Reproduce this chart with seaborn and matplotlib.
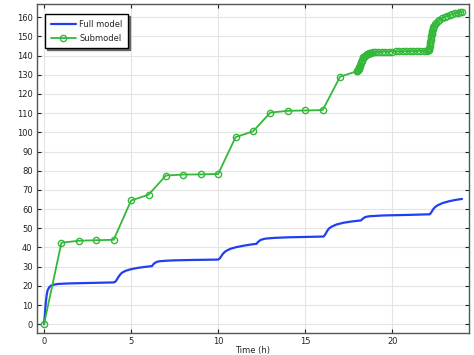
import matplotlib
matplotlib.use("Agg")
import matplotlib.pyplot as plt
import seaborn as sns
import pandas as pd

# Full model (continuous curve)
full_t = [0, 0.05, 0.1, 0.15, 0.2, 0.3, 0.4, 0.6, 0.8, 1.0, 1.5, 2, 3, 4, 4.1, 4.2,
          4.3, 4.4, 4.5, 4.7, 5.0, 5.4, 5.8, 6.2, 6.3, 6.45, 6.6, 7.0, 7.5, 8.5, 10.0,
          10.1, 10.2, 10.3, 10.45, 10.7, 11.0, 11.5, 12.0, 12.2, 12.3, 12.45, 12.7,
          13.2, 14, 15, 16.05, 16.15, 16.25, 16.35, 16.5, 16.8, 17.2, 17.7, 18.2, 18.3,
          18.45, 18.7, 19.5, 21, 22.15, 22.25, 22.35, 22.45, 22.6, 22.9, 23.3, 23.7, 24.0]
full_y = [0, 5, 11, 15, 17.5, 19.3, 20.1, 20.7, 21.0, 21.1, 21.3, 21.4, 21.6, 21.8, 22.2,
          23.5, 25, 26.2, 27, 27.9, 28.7, 29.4, 29.9, 30.3, 31.5, 32.4, 32.8, 33.1, 33.3,
          33.5, 33.7, 34.4, 35.8, 37.0, 38.2, 39.3, 40.1, 41.0, 41.7, 41.9, 43.0, 44.0,
          44.6, 45.0, 45.3, 45.5, 45.7, 46.8, 48.5, 49.8, 50.8, 52.0, 52.9, 53.6, 54.1,
          55.0, 55.9, 56.3, 56.7, 57.0, 57.3, 58.5, 60.0, 61.0, 62.0, 63.2, 64.2, 64.9, 65.3]

# Submodel (marked output points)
sub_t = [0, 1, 2, 3, 4, 5, 6, 7, 8, 9, 10, 11, 12, 13, 14, 15, 16, 17,
         17.95, 17.98, 18.0, 18.02, 18.04, 18.06, 18.08, 18.1, 18.12, 18.15, 18.18,
         18.21, 18.24, 18.27, 18.3, 18.34, 18.38, 18.42, 18.46, 18.5, 18.55, 18.6,
         18.66, 18.72, 18.8, 18.9, 19.0, 19.2, 19.4, 19.6, 19.8, 20.0, 20.2, 20.4,
         20.6, 20.8, 21.0, 21.2, 21.4, 21.6, 21.8, 22.0, 22.05, 22.08, 22.1, 22.12,
         22.14, 22.16, 22.18, 22.2, 22.22, 22.24, 22.26, 22.28, 22.3, 22.33, 22.36,
         22.4, 22.45, 22.5, 22.6, 22.7, 22.85, 23.0, 23.15, 23.3, 23.45, 23.6, 23.75,
         23.9, 24.0]
sub_y = [0, 42.5, 43.5, 43.8, 44.0, 64.5, 67.5, 77.5, 78.0, 78.1, 78.3, 97.5, 100.5,
         110.3, 111.2, 111.4, 111.6, 129.0,
         131.8, 132.1, 132.3, 132.5, 132.7, 133.0, 133.4, 133.9, 134.4, 135.1, 135.9,
         136.6, 137.3, 137.9, 138.5, 139.0, 139.5, 139.9, 140.2, 140.5, 140.8, 141.0,
         141.2, 141.4, 141.5, 141.7, 141.8, 141.9, 142.0, 142.0, 142.1, 142.1, 142.2,
         142.2, 142.2, 142.3, 142.3, 142.3, 142.4, 142.4, 142.4, 142.5, 142.7, 143.0,
         143.5, 144.2, 145.0, 146.0, 147.0, 148.0, 149.0, 150.0, 151.0, 152.0, 152.8,
         153.8, 154.7, 155.5, 156.4, 157.1, 158.0, 158.7, 159.5, 160.2, 160.7, 161.2,
         161.6, 162.0, 162.3, 162.6, 162.8]

blue = "#1f3ff0"
green = "#33b83a"

sns.set_style("ticks")
plt.rcParams["font.family"] = ["DejaVu Sans"]
plt.rcParams["font.size"] = 6

fig = plt.figure(figsize=(4.74, 3.55), dpi=100)
ax = fig.add_axes([0.0774, 0.0628, 0.912, 0.925])

full = pd.DataFrame({"t": full_t, "y": full_y})
sub = pd.DataFrame({"t": sub_t, "y": sub_y})

sns.lineplot(data=full, x="t", y="y", ax=ax, color=blue, lw=1.6,
             estimator=None, sort=False, label="Full model")
sns.lineplot(data=sub, x="t", y="y", ax=ax, color=green, lw=1.3,
             estimator=None, sort=False, marker="o", markersize=4.5,
             markerfacecolor="none", markeredgecolor=green, markeredgewidth=1.0,
             label="Submodel")

ax.set_xlim(-0.42, 24.4)
ax.set_ylim(-4.4, 166.7)
ax.set_xticks([0, 5, 10, 15, 20])
ax.set_yticks(range(0, 161, 10))
ax.grid(True, color="#e4e4e4", lw=0.8)
ax.set_axisbelow(True)
ax.tick_params(direction="in", top=True, right=True, length=3, width=0.8,
               labelsize=6, colors="#222222", pad=3)
for s in ax.spines.values():
    s.set_color("#555555")
    s.set_linewidth(1.0)
ax.set_xlabel("Time (h)", fontsize=6, labelpad=0)
ax.set_ylabel("")

leg = ax.legend(loc="upper left", bbox_to_anchor=(0.019, 0.970), fancybox=False,
                framealpha=1, edgecolor="black", fontsize=6, handlelength=3.0,
                handletextpad=0.4, borderpad=0.7, labelspacing=0.55,
                borderaxespad=0,
                shadow={"ox": 1.2, "oy": -1.2, "color": "#666666", "alpha": 1})
leg.get_frame().set_linewidth(1.0)

fig.savefig("out.png", dpi=100)
